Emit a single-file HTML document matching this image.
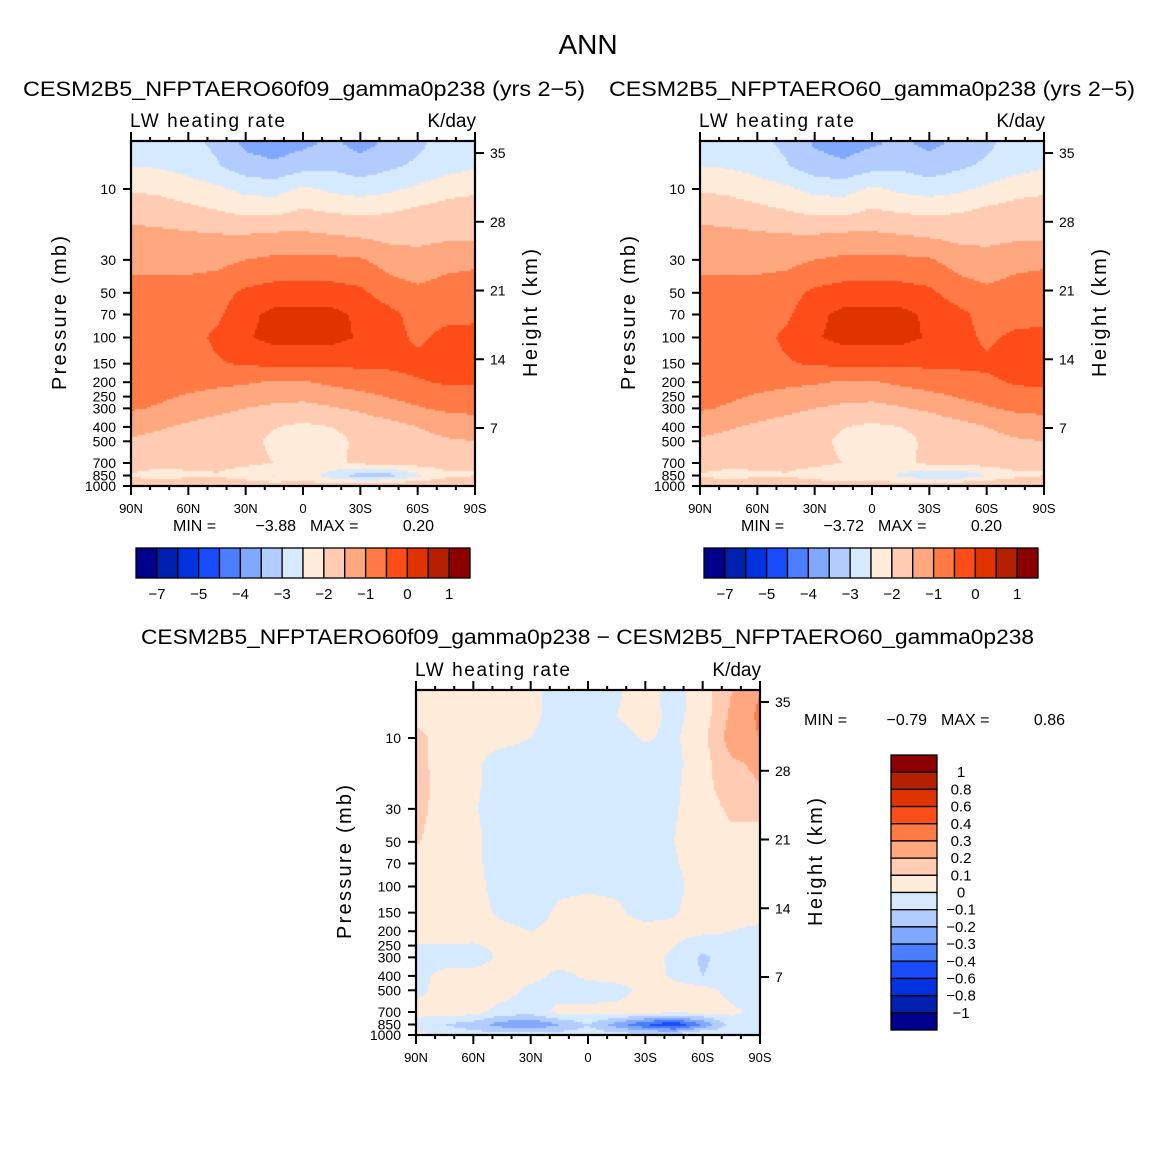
<!DOCTYPE html>
<html><head><meta charset="utf-8">
<style>
html,body{margin:0;padding:0;background:#fff;}
#root{position:relative;width:1175px;height:1175px;overflow:hidden;background:#fff;}
canvas{position:absolute;}
svg{position:absolute;left:0;top:0;}
text{font-family:"Liberation Sans",sans-serif;fill:#000;}
</style></head>
<body>
<div id="root">
<canvas id="cA" style="left:131px;top:141px" width="344" height="345"></canvas>
<canvas id="cB" style="left:700px;top:141px" width="344" height="345"></canvas>
<canvas id="cD" style="left:416px;top:690px" width="344" height="345"></canvas>
<svg id="ov" width="1175" height="1175">
<text x="588" y="54" font-size="28" text-anchor="middle">ANN</text>
<text x="23" y="96" font-size="21" textLength="562" lengthAdjust="spacingAndGlyphs">CESM2B5_NFPTAERO60f09_gamma0p238 (yrs 2−5)</text>
<text x="609" y="96" font-size="21" textLength="526" lengthAdjust="spacingAndGlyphs">CESM2B5_NFPTAERO60_gamma0p238 (yrs 2−5)</text>
<text x="141" y="644" font-size="21" textLength="893" lengthAdjust="spacingAndGlyphs">CESM2B5_NFPTAERO60f09_gamma0p238 − CESM2B5_NFPTAERO60_gamma0p238</text>
</svg>
</div>
<script>
// ---- data ----
const latitudes=[90,75,60,45,30,15,0,-15,-30,-45,-60,-75,-90];
const pressures=[5,7,10,15,20,30,50,70,100,150,200,300,400,500,700,850,1000];
const fieldA=[
[-2.75,-2.75,-2.85,-3.1,-3.6,-3.75,-3.6,-3.4,-3.65,-3.4,-3.1,-2.8,-2.75],
[-2.5,-2.55,-2.7,-2.95,-3.3,-3.4,-3.2,-3.1,-3.3,-3.1,-2.9,-2.7,-2.55],
[-2.05,-2.1,-2.25,-2.4,-2.65,-2.7,-2.4,-2.6,-2.7,-2.6,-2.4,-2.2,-2.1],
[-1.65,-1.7,-1.8,-1.9,-2.02,-2.02,-1.85,-1.95,-2.02,-1.95,-1.8,-1.7,-1.65],
[-1.35,-1.4,-1.45,-1.5,-1.52,-1.45,-1.45,-1.52,-1.6,-1.7,-1.7,-1.65,-1.65],
[-1.2,-1.2,-1.2,-1.15,-1.0,-0.9,-0.9,-0.9,-0.95,-1.2,-1.3,-1.15,-1.1],
[-0.75,-0.75,-0.75,-0.7,-0.4,-0.3,-0.3,-0.3,-0.4,-0.75,-0.9,-0.8,-0.75],
[-0.75,-0.75,-0.75,-0.6,-0.15,0.15,0.15,0.15,-0.1,-0.35,-0.7,-0.65,-0.6],
[-0.75,-0.75,-0.7,-0.4,-0.05,0.15,0.15,0.15,-0.05,-0.3,-0.6,-0.35,-0.35],
[-0.75,-0.75,-0.75,-0.55,-0.45,-0.4,-0.4,-0.4,-0.4,-0.4,-0.35,-0.3,-0.3],
[-0.8,-0.8,-0.85,-0.9,-0.95,-1.05,-1.05,-0.9,-0.8,-0.7,-0.55,-0.45,-0.45],
[-0.95,-1.05,-1.2,-1.35,-1.5,-1.6,-1.65,-1.55,-1.4,-1.2,-1.05,-0.9,-0.85],
[-1.35,-1.45,-1.6,-1.75,-1.85,-1.98,-2.1,-2.0,-1.85,-1.7,-1.5,-1.35,-1.3],
[-1.55,-1.65,-1.75,-1.8,-1.85,-2.1,-2.2,-2.15,-1.9,-1.75,-1.65,-1.55,-1.5],
[-1.75,-1.8,-1.85,-1.85,-1.9,-2.0,-2.1,-2.1,-1.9,-1.85,-1.8,-1.8,-2.0],
[-2.05,-2.25,-2.1,-2.05,-2.25,-2.55,-2.2,-2.75,-3.25,-3.2,-2.6,-2.1,-2.0],
[-1.6,-1.6,-1.55,-1.6,-1.65,-1.7,-1.75,-1.7,-1.6,-1.5,-1.45,-1.6,-1.75]];
const fieldB=[
[-2.75,-2.75,-2.85,-3.1,-3.55,-3.7,-3.55,-3.4,-3.6,-3.4,-3.1,-2.8,-2.75],
[-2.5,-2.55,-2.7,-2.95,-3.3,-3.4,-3.2,-3.1,-3.3,-3.1,-2.9,-2.7,-2.55],
[-2.05,-2.1,-2.25,-2.4,-2.65,-2.7,-2.4,-2.6,-2.7,-2.6,-2.4,-2.2,-2.1],
[-1.65,-1.7,-1.8,-1.9,-2.02,-2.02,-1.85,-1.95,-2.02,-1.95,-1.8,-1.7,-1.65],
[-1.35,-1.4,-1.45,-1.5,-1.52,-1.45,-1.45,-1.52,-1.6,-1.7,-1.7,-1.65,-1.65],
[-1.2,-1.2,-1.2,-1.15,-1.0,-0.9,-0.9,-0.9,-0.95,-1.2,-1.3,-1.15,-1.1],
[-0.75,-0.75,-0.75,-0.7,-0.4,-0.3,-0.3,-0.3,-0.4,-0.75,-0.9,-0.8,-0.75],
[-0.75,-0.75,-0.75,-0.6,-0.15,0.15,0.15,0.15,-0.1,-0.35,-0.7,-0.7,-0.65],
[-0.75,-0.75,-0.7,-0.4,-0.05,0.15,0.15,0.15,-0.05,-0.3,-0.6,-0.4,-0.35],
[-0.75,-0.75,-0.75,-0.55,-0.45,-0.4,-0.4,-0.4,-0.4,-0.4,-0.4,-0.3,-0.3],
[-0.8,-0.8,-0.85,-0.9,-0.95,-1.05,-1.05,-0.9,-0.8,-0.7,-0.6,-0.45,-0.4],
[-0.95,-1.05,-1.2,-1.35,-1.5,-1.6,-1.65,-1.55,-1.4,-1.2,-1.05,-0.9,-0.85],
[-1.35,-1.45,-1.6,-1.75,-1.85,-1.98,-2.1,-2.0,-1.85,-1.7,-1.5,-1.35,-1.3],
[-1.55,-1.65,-1.75,-1.8,-1.85,-2.1,-2.2,-2.15,-1.9,-1.75,-1.65,-1.55,-1.5],
[-1.75,-1.8,-1.85,-1.85,-1.9,-2.0,-2.1,-2.1,-1.9,-1.85,-1.8,-1.8,-2.0],
[-2.05,-2.2,-2.1,-2.05,-2.2,-2.4,-2.2,-2.6,-2.9,-2.9,-2.5,-2.1,-2.0],
[-1.6,-1.6,-1.55,-1.6,-1.65,-1.7,-1.75,-1.7,-1.6,-1.5,-1.45,-1.6,-1.75]];
const fieldDiff=[
[0.05,0.05,0.05,0.05,0.03,-0.05,-0.05,-0.01,0.04,-0.04,0.05,0.2,0.3],
[0.07,0.05,0.05,0.05,0.03,-0.05,-0.05,0.0,0.04,-0.03,0.05,0.22,0.32],
[0.13,0.06,0.04,0.03,0.0,-0.05,-0.05,-0.03,0.01,-0.02,0.07,0.25,0.3],
[0.13,0.06,0.02,-0.05,-0.05,-0.05,-0.04,-0.05,-0.05,-0.03,0.06,0.18,0.22],
[0.14,0.06,0.02,-0.05,-0.05,-0.05,-0.05,-0.05,-0.05,-0.02,0.06,0.17,0.2],
[0.13,0.06,0.01,-0.05,-0.05,-0.05,-0.05,-0.05,-0.05,-0.01,0.05,0.12,0.12],
[0.11,0.05,0.02,-0.04,-0.05,-0.05,-0.05,-0.05,-0.05,0.0,0.05,0.07,0.07],
[0.05,0.05,0.02,-0.04,-0.05,-0.05,-0.05,-0.05,-0.05,-0.01,0.05,0.05,0.05],
[0.05,0.05,0.03,-0.04,-0.05,-0.02,-0.01,-0.02,-0.05,-0.03,0.05,0.05,0.05],
[0.05,0.05,0.04,-0.02,-0.05,0.02,0.03,0.02,-0.04,-0.01,0.05,0.05,0.05],
[0.05,0.05,0.04,0.03,0.0,0.03,0.04,0.04,0.04,0.03,0.02,0.0,-0.03],
[-0.05,-0.05,-0.05,0.02,0.04,0.05,0.05,0.05,0.04,-0.02,-0.12,-0.05,-0.06],
[-0.03,0.03,0.04,0.05,0.04,-0.03,0.02,0.04,0.05,-0.02,-0.1,-0.05,-0.08],
[-0.03,0.04,0.05,0.05,-0.03,-0.05,-0.05,-0.04,0.03,0.05,0.04,-0.03,-0.05],
[0.04,0.05,0.04,-0.04,-0.05,0.03,0.03,0.04,0.04,0.04,0.03,0.02,-0.03],
[-0.05,-0.1,-0.15,-0.25,-0.3,-0.2,-0.1,-0.25,-0.4,-0.5,-0.3,-0.05,-0.05],
[0.05,-0.05,-0.05,-0.05,-0.05,-0.05,-0.05,-0.05,-0.05,-0.05,0.05,-0.05,0.0]];
const levelsTop=[-7,-6,-5,-4.5,-4,-3.5,-3,-2.5,-2,-1.5,-1,-0.5,0,0.5,1];
const levelsDiff=[-1,-0.8,-0.6,-0.4,-0.3,-0.2,-0.1,0,0.1,0.2,0.3,0.4,0.6,0.8,1];
const topBarLabels=['−7','−5','−4','−3','−2','−1','0','1'];
const diffBarLabels=['1','0.8','0.6','0.4','0.3','0.2','0.1','0','−0.1','−0.2','−0.3','−0.4','−0.6','−0.8','−1'];
const colors=['#00008c','#0020b0','#0033e0','#1a4cff','#4a7dff','#80a8ff','#b3ccff','#d6eaff','#ffebd9','#ffccb3','#ffa880','#ff7a45','#ff4d1a','#e03300','#b52000','#8c0000'];
const latTickLabels=['90N','60N','30N','0','30S','60S','90S'];
const pTickLabels=[10,30,50,70,100,150,200,250,300,400,500,700,850,1000];
const kmTickLabels=[35,28,21,14,7];
const minMaxA=['−3.88','0.20'], minMaxB=['−3.72','0.20'], minMaxD=['−0.79','0.86'];

// ---- scales ----
const W=344,H=345,DEC=148.5;
function xScale(lat){return (90-lat)/180*W;}
function yScale(p){return H-(3-Math.log10(p))*DEC;}
function kmScale(z){return 287-(z-7)*9.82;}
function colorFor(v,levels){let i=0;while(i<levels.length&&v>levels[i])i++;return colors[i];}
function sample(field,lat,p){
  const fi=(90-lat)/15;let i=Math.min(Math.floor(fi),11);const fx=fi-i;
  const lp=Math.log10(p);let j=0;
  while(j<pressures.length-2&&Math.log10(pressures[j+1])<lp)j++;
  const l0=Math.log10(pressures[j]),l1=Math.log10(pressures[j+1]);
  let fy=(lp-l0)/(l1-l0);fy=Math.max(0,Math.min(1,fy));
  const a=field[j][i]*(1-fx)+field[j][i+1]*fx;
  const b=field[j+1][i]*(1-fx)+field[j+1][i+1]*fx;
  return a*(1-fy)+b*fy;
}
function drawField(id,field,levels){
  const ctx=document.getElementById(id).getContext('2d');const s=2;
  for(let py=0;py<H;py+=s){
    const p=Math.pow(10,3-(H-(py+s/2))/DEC);
    for(let px=0;px<W;px+=s){
      const lat=90-(px+s/2)/W*180;
      ctx.fillStyle=colorFor(sample(field,lat,p),levels);
      ctx.fillRect(px,py,s,s);
    }
  }
}
drawField('cA',fieldA,levelsTop);
drawField('cB',fieldB,levelsTop);
drawField('cD',fieldDiff,levelsDiff);

const NS='http://www.w3.org/2000/svg';const ov=document.getElementById('ov');
function el(tag,attrs,parent){const e=document.createElementNS(NS,tag);for(const k in attrs)e.setAttribute(k,attrs[k]);(parent||ov).appendChild(e);return e;}
function txt(x,y,s,size,anchor,parent){const t=el('text',{x:x,y:y,'font-size':size,'text-anchor':anchor||'start'},parent);t.textContent=s;return t;}

function axes(ox,oy,key){
  const g=el('g',{});
  
  
  for(let lat=90;lat>=-90;lat-=10){
    const x=ox+xScale(lat);const major=(lat%30===0);const L=major?9:4;
    el('line',{x1:x,y1:oy,x2:x,y2:oy-L,stroke:'#000','stroke-width':2},g);
    el('line',{x1:x,y1:oy+H,x2:x,y2:oy+H+L,stroke:'#000','stroke-width':2},g);
  }
  latTickLabels.forEach((s,k)=>{
    const t=txt(ox+xScale(90-30*k),oy+H+27,s,13,'middle',g);
    
    
  });
  pTickLabels.forEach(p=>{
    const y=oy+yScale(p);
    el('line',{x1:ox,y1:y,x2:ox-8,y2:y,stroke:'#000','stroke-width':2},g);
    const t=txt(ox-15,y+5,String(p),14,'end',g);
    
    
  });
  kmTickLabels.forEach(z=>{
    const y=oy+kmScale(z);
    el('line',{x1:ox+W,y1:y,x2:ox+W+9,y2:y,stroke:'#000','stroke-width':2},g);
    const t=txt(ox+W+15,y+5,String(z),14,'start',g);
    
    
  });
  el('rect',{x:ox,y:oy,width:W,height:H,fill:'none',stroke:'#000','stroke-width':2.2},g);
  const l1=txt(ox-1,oy-14,'LW heating rate',19,'start',g);
  l1.setAttribute('textLength','155');
  
  
  const l2=txt(ox+W+1,oy-14,'K/day',19,'end',g);
  
  
  const yl=txt(0,0,'Pressure (mb)',20,'middle',g);
  yl.setAttribute('transform','translate('+(ox-65)+','+(oy+172)+') rotate(-90)');
  yl.setAttribute('textLength','154');
  
  
  const hl=txt(0,0,'Height (km)',20,'middle',g);
  hl.setAttribute('transform','translate('+(ox+W+62)+','+(oy+172)+') rotate(-90)');
  hl.setAttribute('textLength','128');
  
  
}
axes(131,141,'panel-a');axes(700,141,'panel-b');axes(416,690,'panel-diff');

function minmax(x,y,mm,key){
  const g=el('g',{});
  
  
  txt(x,y,'MIN =',16,'start',g);
  txt(x+123,y,mm[0],16,'end',g);
  txt(x+137,y,'MAX =',16,'start',g);
  txt(x+261,y,mm[1],16,'end',g);
}
minmax(173,531,minMaxA,'panel-a');minmax(741,531,minMaxB,'panel-b');minmax(804,725,minMaxD,'panel-diff');

function hbar(x0,key){
  const g=el('g',{});
  
  
  const bw=334/16;
  colors.forEach((c,i)=>{
    const r=el('rect',{x:x0+i*bw,y:548,width:bw,height:30,fill:c,stroke:'#000','stroke-width':1.3},g);
    
    
  });
  topBarLabels.forEach((s,k)=>{
    const t=txt(x0+(2*k+1)*bw,599,s,15,'middle',g);
    
    
  });
}
hbar(136,'panel-a');hbar(704,'panel-b');

(function(){
  const g=el('g',{});
  
  
  const bh=275/16;
  colors.slice().reverse().forEach((c,i)=>{
    const r=el('rect',{x:891,y:755+i*bh,width:46,height:bh,fill:c,stroke:'#000','stroke-width':1.3},g);
    
    
  });
  diffBarLabels.forEach((s,k)=>{
    const t=txt(961,755+(k+1)*bh+5,s,15,'middle',g);
    
    
  });
})();
</script>
</body></html>
